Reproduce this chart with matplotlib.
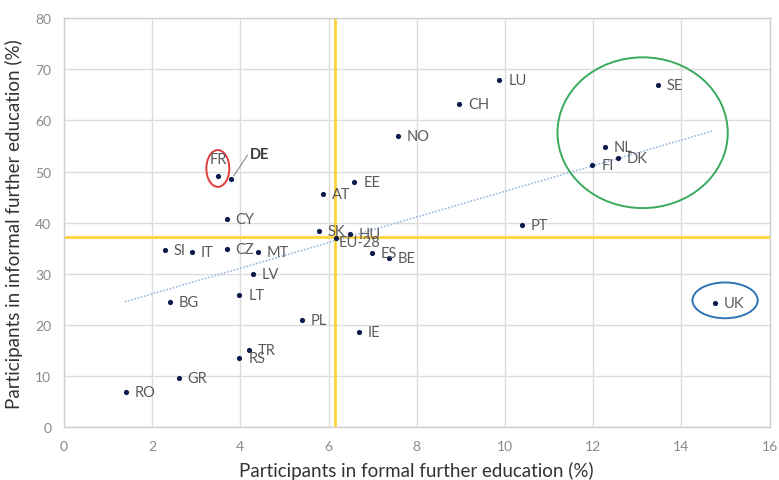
import matplotlib
matplotlib.use("Agg")
import matplotlib.pyplot as plt
from matplotlib.patches import Ellipse
from matplotlib import font_manager

# ---------------- data ----------------
countries = ["RO", "GR", "BG", "SI", "IT", "CZ", "CY", "MT", "LV", "LT", "TR", "RS",
             "PL", "IE", "SK", "HU", "EU-28", "ES", "BE", "AT", "EE", "FR", "DE",
             "NO", "CH", "LU", "SE", "NL", "DK", "FI", "PT", "UK"]
formal = [1.40, 2.60, 2.40, 2.29, 2.90, 3.69, 3.69, 4.40, 4.28, 3.98, 4.19, 3.98,
          5.39, 6.69, 5.79, 6.48, 6.16, 6.98, 7.37, 5.88, 6.58, 3.49, 3.80,
          7.57, 8.96, 9.87, 13.47, 12.26, 12.56, 11.98, 10.38, 14.75]
informal = [6.9, 9.6, 24.4, 34.7, 34.3, 34.8, 40.8, 34.3, 29.9, 25.9, 15.1, 13.5,
            20.9, 18.7, 38.3, 37.8, 37.0, 34.0, 33.1, 45.6, 48.0, 49.1, 48.5,
            56.9, 63.2, 68.0, 67.0, 54.9, 52.7, 51.3, 39.6, 24.3]

eu_formal = 6.15      # vertical reference line (EU-28 average)
eu_informal = 37.1    # horizontal reference line (EU-28 average)

trend_x = [1.38, 14.73]
trend_y = [24.5, 58.0]

x_ticks = [0, 2, 4, 6, 8, 10, 12, 14, 16]
y_ticks = [0, 10, 20, 30, 40, 50, 60, 70, 80]

x_label = "Participants in formal further education (%)"
y_label = "Participants in informal further education (%)"

# highlight ellipses: centre x, centre y, width, height
ell_red = (3.49, 50.6, 0.52, 7.2)
ell_green = (13.12, 57.6, 3.86, 29.5)
ell_blue = (14.99, 24.8, 1.48, 7.0)

# ---------------- style ----------------
avail = {f.name for f in font_manager.fontManager.ttflist}
fam = "Lato" if "Lato" in avail else "DejaVu Sans"
plt.rcParams["font.family"] = [fam, "DejaVu Sans"]

fig = plt.figure(figsize=(7.79, 4.81), dpi=100)
ax = fig.add_axes([0.082, 0.110, 0.906, 0.850])

ax.set_xlim(0, 16)
ax.set_ylim(0, 80)
ax.set_xticks(x_ticks)
ax.set_yticks(y_ticks)
ax.grid(True, color="#dcdcdc", linewidth=1.0)
ax.set_axisbelow(True)
for s in ax.spines.values():
    s.set_color("#d0d0d0")
    s.set_linewidth(1.0)
ax.tick_params(length=0, labelsize=10, colors="#8a8a8a", pad=9)

ax.set_xlabel(x_label, fontsize=13.5, color="#333333", labelpad=7)
ax.set_ylabel(y_label, fontsize=13.5, color="#333333", labelpad=9)

# reference lines
ax.axvline(eu_formal, color="#ffd43b", linewidth=2.0, zorder=2)
ax.axhline(eu_informal, color="#ffd43b", linewidth=2.0, zorder=2)

# trend line
ax.plot(trend_x, trend_y, linestyle=(0, (1, 1)), color="#9dbbe0", linewidth=1.2, zorder=2)

# points
ax.scatter(formal, informal, s=14, color="#0b1a4a", zorder=4, linewidths=0)

# labels
offsets = {
    "FR": (0, 17, "center"),
    "DE": (18, 25, "left"),
    "EU-28": (3, -4, "left"),
    "SK": (8, 0, "left"),
}
for name, xv, yv in zip(countries, formal, informal):
    dx, dy, ha = offsets.get(name, (9, 0, "left"))
    color = "#3a3a3a" if name == "DE" else "#5a5a5a"
    weight = "bold" if name == "DE" else "normal"
    ax.annotate(name, (xv, yv), xytext=(dx, dy), textcoords="offset pixels",
                ha=ha, va="center", fontsize=10.5, color=color, weight=weight, zorder=5)

# DE leader line
i_de = countries.index("DE")
ax.annotate("", (formal[i_de], informal[i_de]), xytext=(16, 24), textcoords="offset pixels",
            arrowprops=dict(arrowstyle="-", color="#8a8a8a", lw=0.8, shrinkA=0, shrinkB=3))

# ellipses
for (cx, cy, w, h), col in [(ell_red, "#e03c3c"), (ell_green, "#3aaa5c"), (ell_blue, "#2f74b5")]:
    ax.add_patch(Ellipse((cx, cy), w, h, fill=False, edgecolor=col, linewidth=1.4, zorder=3))

fig.savefig("out.png", dpi=100)
